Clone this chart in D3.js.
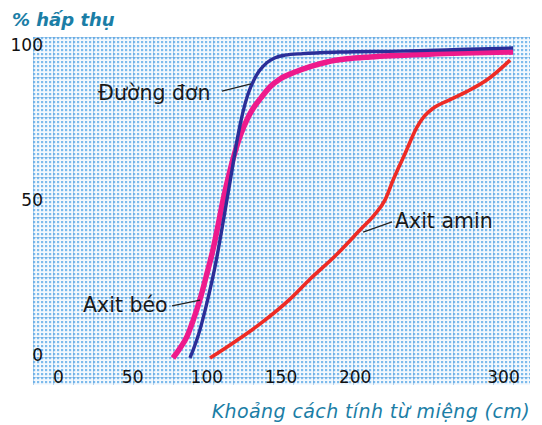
<!DOCTYPE html>
<html>
<head>
<meta charset="utf-8">
<script src="https://cdn.jsdelivr.net/npm/d3@7"></script>
<style>
  body { margin: 0; background: #fff; }
  svg { display: block; }
</style>
</head>
<body>
<div class="chart"></div>
<script>
// Absorption along the gut
var svgWidth = 542;
var svgHeight = 425;

// distance from mouth (cm) / % absorbed
var sugarX = [89, 95, 101, 106.5, 111, 114.6, 117.8, 121, 124.5, 128, 132, 136, 141, 146, 153, 165, 190, 230, 270, 306.8];
var sugarY = [0, 8, 19, 31, 43, 53, 62, 71, 79, 85, 89.6, 92.8, 95.3, 96.8, 97.7, 98.2, 98.7, 99, 99.5, 100];

var fatX = [77.5, 82, 87, 91, 95.8, 100, 104.5, 108, 111.3, 116, 122.7, 128, 131.5, 137, 143, 149.7, 158.5, 170, 181.4, 195, 210.4, 250, 306.8];
var fatY = [0, 3, 7, 12, 19, 26.5, 35, 43, 51, 60.6, 71.5, 77.5, 80.5, 84, 87.5, 90, 92, 94, 95.5, 96.5, 97.1, 98, 98.7];

var aminoX = [102.5, 120, 136.2, 156.4, 170, 187, 203.6, 213, 220.5, 225.9, 234, 242, 247, 253, 264, 275.8, 290, 304.8];
var aminoY = [0, 5.5, 11, 19, 25.5, 33, 41.3, 46, 51, 57.4, 66, 74.5, 78, 80.6, 83.3, 86, 90, 96.1];

var xTicks = [0, 50, 100, 150, 200, 300];
var yTicks = [0, 50, 100];

// label text, anchor (data units) and leader line ends
var labels = ["Đường đơn", "Axit béo", "Axit amin"];
var labelX = [27, 16.9, 227.2];
var labelY = [83.2, 14.8, 41.9];
var leadFromX = [110.6, 76.9, 225.2];
var leadFromY = [86.1, 16.8, 43.9];
var leadToX = [130.1, 95.8, 205.7];
var leadToY = [88.4, 18.7, 40.6];

var colors = ["#2b2e98", "#ee1a8c", "#ee2b25"];
var widths = [3.4, 5.5, 3.6];

var svg = d3.select(".chart")
    .append("svg")
    .attr("width", svgWidth)
    .attr("height", svgHeight);

var x = d3.scaleLinear().domain([0, 300]).range([58, 503]);
var y = d3.scaleLinear().domain([0, 100]).range([358, 48]);

// graph paper background
var defs = svg.append("defs");
var pat = defs.append("pattern")
    .attr("id", "grid")
    .attr("patternUnits", "userSpaceOnUse")
    .attr("x", 33).attr("y", 37)
    .attr("width", 20).attr("height", 20);
pat.append("rect").attr("width", 20).attr("height", 20).attr("fill", "#7dbbec");
for (var i = 0; i < 5; i++) {
  pat.append("rect").attr("x", i * 4 + 2.2).attr("y", 0).attr("width", 1.8).attr("height", 20).attr("fill", "#f3f9fe");
  pat.append("rect").attr("x", 0).attr("y", i * 4 + 2.2).attr("width", 20).attr("height", 1.8).attr("fill", "#f3f9fe");
}
pat.append("rect").attr("x", 0).attr("y", 0).attr("width", 20).attr("height", 1).attr("fill", "#5a9fdc").attr("opacity", 0.45);
pat.append("rect").attr("x", 0).attr("y", 0).attr("width", 1).attr("height", 20).attr("fill", "#5a9fdc").attr("opacity", 0.45);

svg.append("rect")
    .attr("x", 33).attr("y", 37)
    .attr("width", 497).attr("height", 348)
    .attr("fill", "url(#grid)");

// axes (labels only)
var xAxis = svg.append("g")
    .attr("transform", "translate(0, 368)")
    .call(d3.axisBottom(x).tickValues(xTicks).tickSize(0).tickPadding(3));
var yAxis = svg.append("g")
    .attr("transform", "translate(43, 0)")
    .call(d3.axisLeft(y).tickValues(yTicks).tickSize(0).tickPadding(0));
[xAxis, yAxis].forEach(function (g) {
  g.select(".domain").remove();
  g.selectAll("text")
    .attr("fill", "#111")
    .style("font-family", "'DejaVu Sans', sans-serif")
    .style("font-size", "17px");
});
yAxis.selectAll("text").attr("dy", "0.12em");

// curves
var line = d3.line()
    .x(d => x(d[0]))
    .y(d => y(d[1]))
    .curve(d3.curveMonotoneX);

var series = [
  d3.zip(sugarX, sugarY),
  d3.zip(fatX, fatY),
  d3.zip(aminoX, aminoY)
];

// draw amino, fat, then sugar on top
[2, 1, 0].forEach(function (k) {
  svg.append("path")
    .datum(series[k])
    .attr("d", line)
    .attr("fill", "none")
    .attr("stroke", colors[k])
    .attr("stroke-width", widths[k])
    .attr("stroke-linecap", "butt");
});

// annotations
labels.forEach(function (t, k) {
  svg.append("line")
    .attr("x1", x(leadFromX[k])).attr("y1", y(leadFromY[k]))
    .attr("x2", x(leadToX[k])).attr("y2", y(leadToY[k]))
    .attr("stroke", "#222")
    .attr("stroke-width", 1.3);
  svg.append("text")
    .attr("x", x(labelX[k]))
    .attr("y", y(labelY[k]))
    .attr("fill", "#1a1a1a")
    .style("font-family", "'DejaVu Sans', sans-serif")
    .style("font-size", "20.5px")
    .text(t);
});

// axis titles
svg.append("text")
    .attr("x", 12).attr("y", 26)
    .attr("fill", "#1b7ea6")
    .style("font-family", "'DejaVu Sans', sans-serif")
    .style("font-size", "18px")
    .style("font-style", "italic")
    .style("font-weight", "bold")
    .text("% hấp thụ");

svg.append("text")
    .attr("x", 530).attr("y", 418)
    .attr("text-anchor", "end")
    .attr("fill", "#1b7ea6")
    .style("font-family", "'DejaVu Sans', sans-serif")
    .style("font-size", "19px")
    .style("letter-spacing", "0.4px")
    .style("font-style", "italic")
    .text("Khoảng cách tính từ miệng (cm)");
</script>
</body>
</html>
